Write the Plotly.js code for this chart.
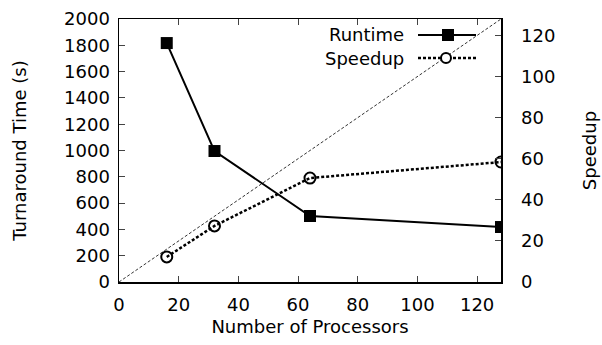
<!DOCTYPE html>
<html><head><meta charset="utf-8">
<script src="https://cdn.plot.ly/plotly-3.0.1.min.js"></script>
<style>html,body{margin:0;padding:0;background:#fff}#c{width:602px;height:345px}</style>
</head><body><div id="c"></div>
<script>
const processors = [16, 32, 64, 128];
const runtime = [1817, 996, 502, 418];
const speedup = [12.2, 27.3, 50.6, 58.4];
const idealX = [0, 128];
const idealY = [0, 128];
const xTicks = [0, 20, 40, 60, 80, 100, 120];
const yTicks = [0, 200, 400, 600, 800, 1000, 1200, 1400, 1600, 1800, 2000];
const y2Ticks = [0, 20, 40, 60, 80, 100, 120];

const F = {family: 'DejaVu Sans, Liberation Sans, Arial, sans-serif', size: 18, color: '#000'};

const traces = [
  {x: idealX, y: idealY, yaxis: 'y2', mode: 'lines', line: {color: '#000', width: 0.8, dash: '3px,2px'}, showlegend: false, hoverinfo: 'skip'},
  {x: processors, y: runtime, mode: 'lines+markers', name: 'Runtime', line: {color: '#000', width: 2}, marker: {symbol: 'square', size: 12, color: '#000'}},
  {x: processors, y: speedup, yaxis: 'y2', mode: 'lines+markers', name: 'Speedup', line: {color: '#000', width: 2.5, dash: '3px,2px'}, marker: {symbol: 'circle-open', size: 11, color: '#000', line: {width: 2, color: '#000'}}}
];

const px = v => (v - 119) / 382;
const py = v => (282 - v) / 263;

const layout = {
  width: 602, height: 345,
  margin: {l: 119, r: 101, t: 19, b: 63},
  paper_bgcolor: '#fff', plot_bgcolor: '#fff',
  font: F,
  showlegend: false,
  xaxis: {range: [0, 128], tickvals: xTicks, ticks: 'inside', ticklen: 6, tickwidth: 1, showline: true, linewidth: 1.5, linecolor: '#000', mirror: 'ticks', showgrid: false, zeroline: false, tickfont: F, ticklabelstandoff: 6,
    title: {text: 'Number of Processors', font: F, standoff: 6}},
  yaxis: {range: [0, 2000], tickvals: yTicks, ticks: 'inside', ticklen: 6, tickwidth: 1, showline: true, linewidth: 1.5, linecolor: '#000', showgrid: false, zeroline: false, tickfont: F, ticklabelstandoff: 4,
    title: {text: 'Turnaround Time (s)', font: F, standoff: 33}},
  yaxis2: {range: [0, 128], tickvals: y2Ticks, overlaying: 'y', side: 'right', ticks: 'inside', ticklen: 6, tickwidth: 1, showline: true, linewidth: 1.5, linecolor: '#000', showgrid: false, zeroline: false, tickfont: F, ticklabelstandoff: 15,
    title: {text: 'Speedup', font: F, standoff: 29}},
  annotations: [
    {xref: 'paper', yref: 'paper', x: px(406), y: py(35), xanchor: 'right', yanchor: 'middle', text: 'Runtime', showarrow: false, font: F},
    {xref: 'paper', yref: 'paper', x: px(406), y: py(58), xanchor: 'right', yanchor: 'middle', text: 'Speedup', showarrow: false, font: F}
  ],
  shapes: [
    {type: 'line', xref: 'paper', yref: 'paper', x0: px(418), x1: px(476), y0: py(35), y1: py(35), line: {color: '#000', width: 2}},
    {type: 'rect', xref: 'paper', yref: 'paper', xsizemode: 'pixel', ysizemode: 'pixel', xanchor: px(448), yanchor: py(35), x0: -6, x1: 6, y0: -6, y1: 6, fillcolor: '#000', line: {width: 0}},
    {type: 'line', xref: 'paper', yref: 'paper', x0: px(418), x1: px(476), y0: py(58), y1: py(58), line: {color: '#000', width: 2.5, dash: '3px,2px'}},
    {type: 'circle', xref: 'paper', yref: 'paper', xsizemode: 'pixel', ysizemode: 'pixel', xanchor: px(446), yanchor: py(58), x0: -5, x1: 5, y0: -5, y1: 5, fillcolor: '#fff', line: {color: '#000', width: 2}}
  ]
};

Plotly.newPlot('c', traces, layout, {staticPlot: true, displayModeBar: false});
</script></body></html>
